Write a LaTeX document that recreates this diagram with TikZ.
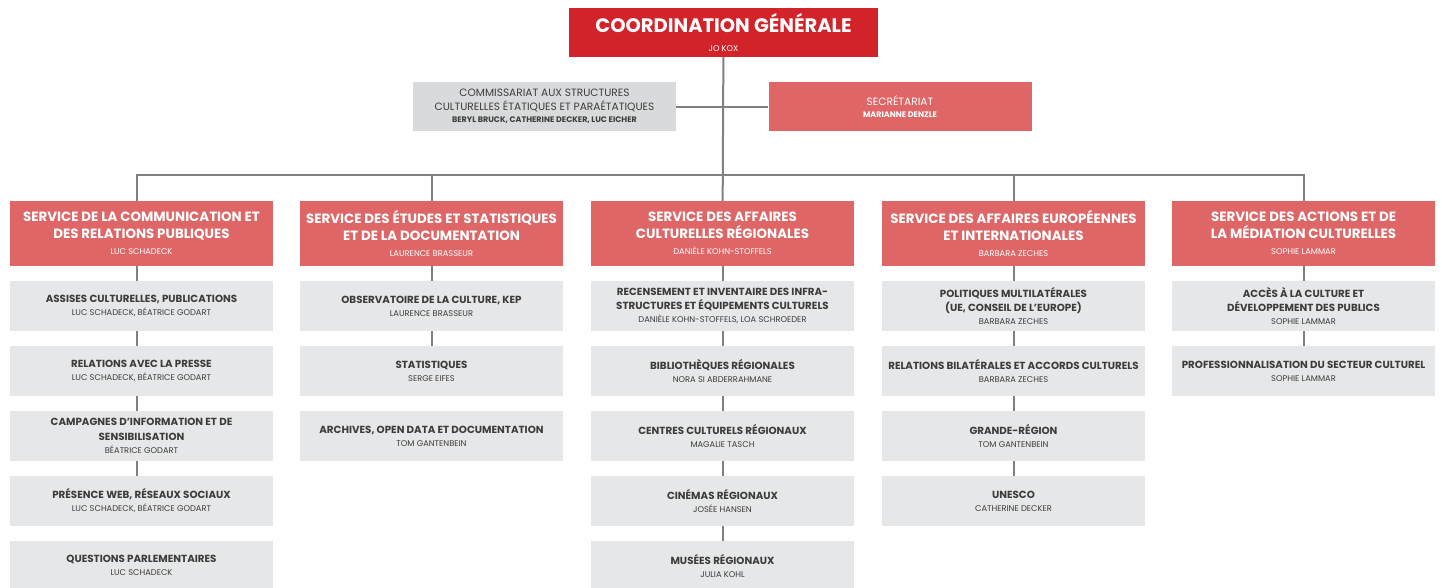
\documentclass[tikz,border=0pt]{standalone}
\usepackage{fontspec}
\setmainfont{Poppins}
\usetikzlibrary{positioning}

\definecolor{topred}{HTML}{D2232A}
\definecolor{unitred}{HTML}{DE6666}
\definecolor{boxgray}{HTML}{E6E7E8}
\definecolor{commgray}{HTML}{D9DADB}
\definecolor{linegray}{HTML}{808080}
\definecolor{txtgray}{HTML}{3C3C3B}

% name lines under a title
\newcommand{\who}[1]{\\[-1.5pt]{\fontsize{8.3}{10}\selectfont\mdseries #1}}
\newcommand{\whob}[1]{\\[-1.5pt]{\fontsize{8}{10}\selectfont\bfseries #1}}

\begin{document}
\begin{tikzpicture}[x=1pt, y=-1pt,
    topbox/.style={fill=topred, text=white, minimum width=309pt, minimum height=49pt,
                   align=center, font=\fontsize{19.5}{21}\selectfont\bfseries},
    side/.style={minimum width=263pt, minimum height=49pt, align=center,
                 font=\fontsize{10.6}{13.5}\selectfont},
    unit/.style={fill=unitred, text=white, minimum width=263pt, minimum height=65pt,
                 align=center, font=\fontsize{13.4}{17}\selectfont\bfseries},
    item/.style={fill=boxgray, text=txtgray, minimum width=263pt, minimum height=49.5pt,
                 align=center, font=\fontsize{10.3}{14.5}\selectfont\bfseries},
    link/.style={draw=linegray, line width=2pt},
    gap/.style={below=15pt of #1}
]
\useasboundingbox (0,0) rectangle (1442,587);

% Top
\node[topbox] (coord) at (723.5,32.5) {COORDINATION GÉNÉRALE\who{JO KOX}};
\node[side, fill=commgray, text=txtgray] (comm) at (544.5,106.5)
    {COMMISSARIAT AUX STRUCTURES\\CULTURELLES ÉTATIQUES ET PARAÉTATIQUES\whob{BERYL BRUCK, CATHERINE DECKER, LUC EICHER}};
\node[side, fill=unitred, text=white] (secr) at (900,106.5) {SECRÉTARIAT\whob{MARIANNE DENZLE}};
\coordinate (bus) at (722.5,174.5);

% Services
\node[unit] (h1) at (141.5,233.5) {SERVICE DE LA COMMUNICATION ET\\DES RELATIONS PUBLIQUES\who{LUC SCHADECK}};
\node[unit] (h2) at (431.5,233.5) {SERVICE DES ÉTUDES ET STATISTIQUES\\ET DE LA DOCUMENTATION\who{LAURENCE BRASSEUR}};
\node[unit] (h3) at (722.5,233.5) {SERVICE DES AFFAIRES\\CULTURELLES RÉGIONALES\who{DANIÈLE KOHN-STOFFELS}};
\node[unit] (h4) at (1013.5,233.5) {SERVICE DES AFFAIRES EUROPÉENNES\\ET INTERNATIONALES\who{BARBARA ZECHES}};
\node[unit] (h5) at (1303.5,233.5) {SERVICE DES ACTIONS ET DE\\LA MÉDIATION CULTURELLES\who{SOPHIE LAMMAR}};

% Column 1
\node[item, gap=h1] (c1a) {ASSISES CULTURELLES, PUBLICATIONS\who{LUC SCHADECK, BÉATRICE GODART}};
\node[item, gap=c1a] (c1b) {RELATIONS AVEC LA PRESSE\who{LUC SCHADECK, BÉATRICE GODART}};
\node[item, gap=c1b] (c1c) {CAMPAGNES D’INFORMATION ET DE\\SENSIBILISATION\who{BÉATRICE GODART}};
\node[item, gap=c1c] (c1d) {PRÉSENCE WEB, RÉSEAUX SOCIAUX\who{LUC SCHADECK, BÉATRICE GODART}};
\node[item, gap=c1d] (c1e) {QUESTIONS PARLEMENTAIRES\who{LUC SCHADECK}};

% Column 2
\node[item, gap=h2] (c2a) {OBSERVATOIRE DE LA CULTURE, KEP\who{LAURENCE BRASSEUR}};
\node[item, gap=c2a] (c2b) {STATISTIQUES\who{SERGE EIFES}};
\node[item, gap=c2b] (c2c) {ARCHIVES, OPEN DATA ET DOCUMENTATION\who{TOM GANTENBEIN}};

% Column 3
\node[item, gap=h3] (c3a) {RECENSEMENT ET INVENTAIRE DES INFRA-\\STRUCTURES ET ÉQUIPEMENTS CULTURELS\who{DANIÈLE KOHN-STOFFELS, LOA SCHROEDER}};
\node[item, gap=c3a] (c3b) {BIBLIOTHÈQUES RÉGIONALES\who{NORA SI ABDERRAHMANE}};
\node[item, gap=c3b] (c3c) {CENTRES CULTURELS RÉGIONAUX\who{MAGALIE TASCH}};
\node[item, gap=c3c] (c3d) {CINÉMAS RÉGIONAUX\who{JOSÉE HANSEN}};
\node[item, gap=c3d] (c3e) {MUSÉES RÉGIONAUX\who{JULIA KOHL}};

% Column 4
\node[item, gap=h4] (c4a) {POLITIQUES MULTILATÉRALES\\(UE, CONSEIL DE L’EUROPE)\who{BARBARA ZECHES}};
\node[item, gap=c4a] (c4b) {RELATIONS BILATÉRALES ET ACCORDS CULTURELS\who{BARBARA ZECHES}};
\node[item, gap=c4b] (c4c) {GRANDE-RÉGION\who{TOM GANTENBEIN}};
\node[item, gap=c4c] (c4d) {UNESCO\who{CATHERINE DECKER}};

% Column 5
\node[item, gap=h5] (c5a) {ACCÈS À LA CULTURE ET\\DÉVELOPPEMENT DES PUBLICS\who{SOPHIE LAMMAR}};
\node[item, gap=c5a] (c5b) {PROFESSIONNALISATION DU SECTEUR CULTUREL\who{SOPHIE LAMMAR}};

% Connectors
\draw[link] (coord) -- (h3);
\draw[link] (comm) -- (secr);
\draw[link] ([xshift=-4.5pt]h1.north) |- (bus) -| (h5.north);
\draw[link] (h2.north) -- (h2.north |- bus);
\draw[link] (h4.north) -- (h4.north |- bus);
\draw[link, transform canvas={xshift=-4.5pt}] (h1) -- (c1a) (c1a) -- (c1b) (c1b) -- (c1c) (c1c) -- (c1d);
\draw[link] (h2) -- (c2a) (c2a) -- (c2b);
\draw[link] (h3) -- (c3a) (c3a) -- (c3b) (c3b) -- (c3c) (c3c) -- (c3d) (c3d) -- (c3e);
\draw[link] (h4) -- (c4a) (c4a) -- (c4b) (c4b) -- (c4c) (c4c) -- (c4d);
\draw[link] (h5) -- (c5a) (c5a) -- (c5b);

\end{tikzpicture}
\end{document}
